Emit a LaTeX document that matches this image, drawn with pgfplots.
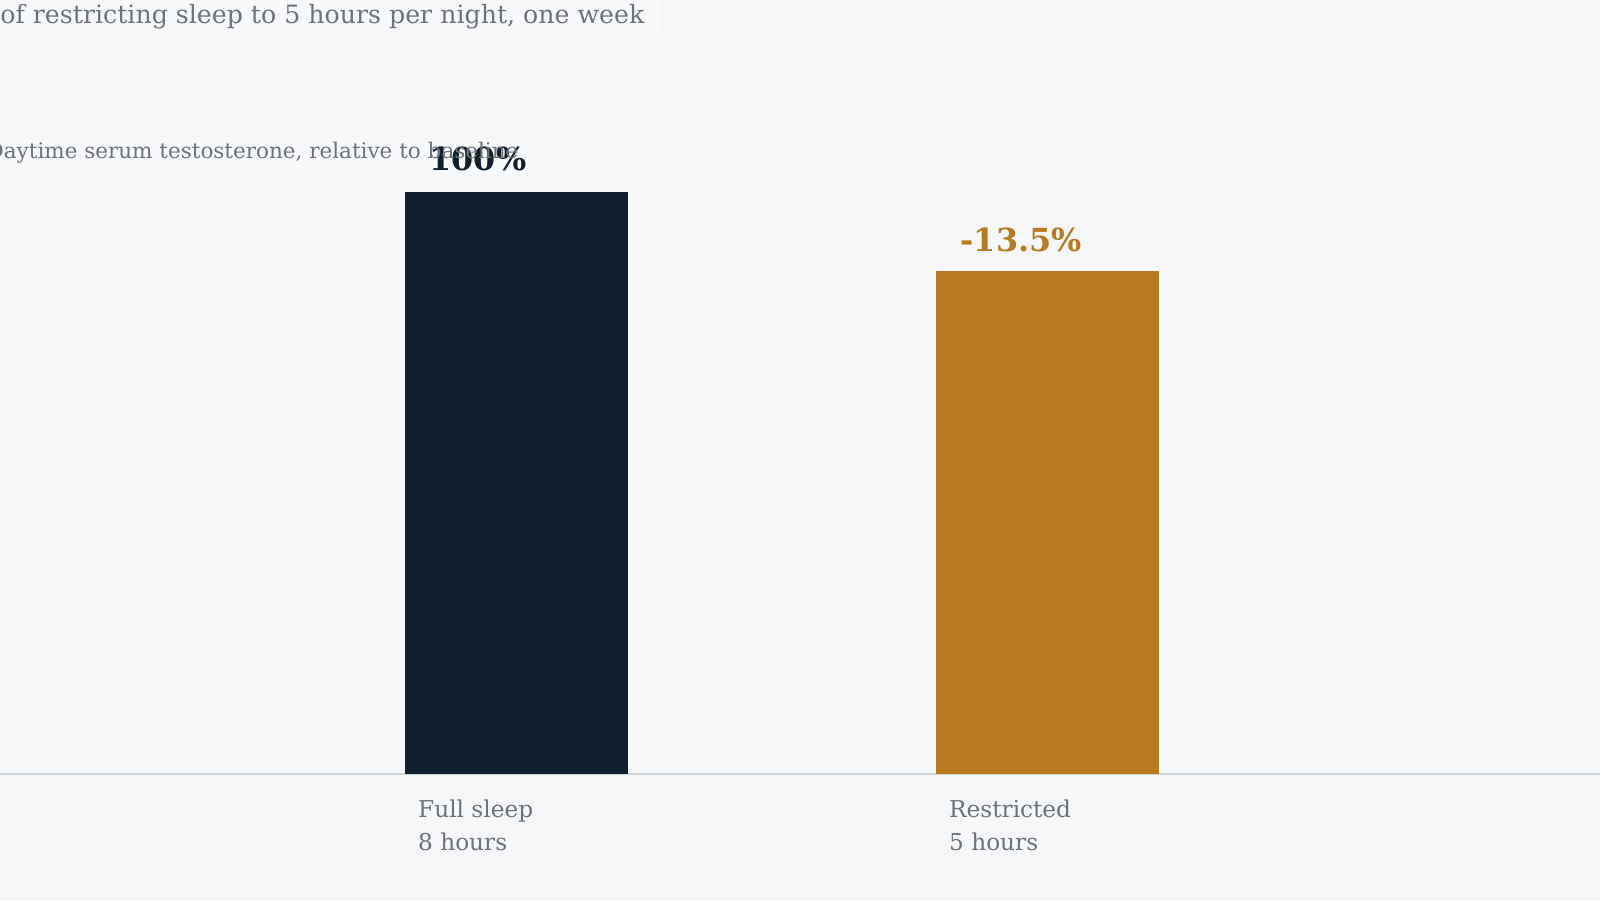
\documentclass[border=0pt]{standalone}
\usepackage{fontspec}
\setmainfont{DejaVu Serif}
\usepackage{graphicx}
\usepackage{pgfplots}
\pgfplotsset{compat=1.18}
\definecolor{bg}{HTML}{F5F7F9}
\definecolor{bgl}{HTML}{F8F9FB}
\definecolor{navy}{HTML}{11202F}
\definecolor{ochre}{HTML}{B8791F}
\definecolor{txt}{HTML}{6E7379}
\definecolor{axl}{HTML}{CDD4D8}
\newlength\tw
\newlength\dw
\newlength\ttw
\newlength\tdw
\begin{document}%
\settowidth\tw{\fontsize{10pt}{12pt}\selectfont aytime serum testosterone, relative to baseline}%
\settowidth\dw{\fontsize{10pt}{12pt}\selectfont D}%
\pgfmathsetmacro\subsz{10*257.25/\tw}%
\pgfmathsetmacro\subx{1.75-\dw*\subsz/10}%
\settowidth\ttw{\fontsize{10pt}{12pt}\selectfont of restricting sleep to 5 hours per night, one week}%
\settowidth\tdw{\fontsize{10pt}{12pt}\selectfont Effect }%
\pgfmathsetmacro\titsz{10*322/\ttw}%
\pgfmathsetmacro\titx{0-\tdw*\titsz/10}%
\begin{tikzpicture}
\useasboundingbox (0,-63.25pt) rectangle (800pt,386.75pt);
\fill[bg] (0,-63.25pt) rectangle (800pt,386.75pt);
\clip (0,-63.25pt) rectangle (800pt,386.75pt);
\fill[bgl] (0,367.75pt) rectangle (330pt,386.75pt);
\fill[bgl] (0,299.25pt) rectangle (271.5pt,316.75pt);
\begin{axis}[
  at={(0,0)}, anchor=south west,
  scale only axis, width=800pt, height=386.75pt,
  xmin=-0.9733, xmax=2.0399, ymin=0, ymax=133.02,
  axis y line=none, axis x line*=bottom,
  x axis line style={draw=axl, line width=1pt, -},
  xtick={0,1}, xticklabels={{Full sleep\\8 hours},{Restricted\\5 hours}},
  major tick length=0pt,
  xticklabel style={anchor=north west, inner sep=0pt, xshift=-49.5pt, yshift=-12.8pt, align=left, text=txt, font=\fontsize{11.6pt}{16.65pt}\selectfont},
  ybar, bar width=111.5pt, bar shift=0pt,
  clip=false,
  nodes near coords, point meta=explicit symbolic,
  every node near coord/.append style={anchor=base west, inner sep=0pt, xshift=-43.75pt, font=\bfseries\fontsize{15.9pt}{18pt}\selectfont},
]
\addplot[fill=navy, draw=none, every node near coord/.append style={text=navy, yshift=11pt}] coordinates {(0,100) [100\%]};
\addplot[fill=ochre, draw=none, every node near coord/.append style={text=ochre, yshift=9.3pt}] coordinates {(1,86.5) [-13.5\%]};
\end{axis}
\node[anchor=base west, inner sep=0pt, text=txt, font=\fontsize{\titsz pt}{\titsz pt}\selectfont] at (\titx pt,375.1pt) {Effect of restricting sleep to 5 hours per night, one week};
\node[anchor=base west, inner sep=0pt, text=txt, font=\fontsize{\subsz pt}{\subsz pt}\selectfont] at (\subx pt,307.25pt) {Daytime serum testosterone, relative to baseline};
\end{tikzpicture}%
\end{document}
